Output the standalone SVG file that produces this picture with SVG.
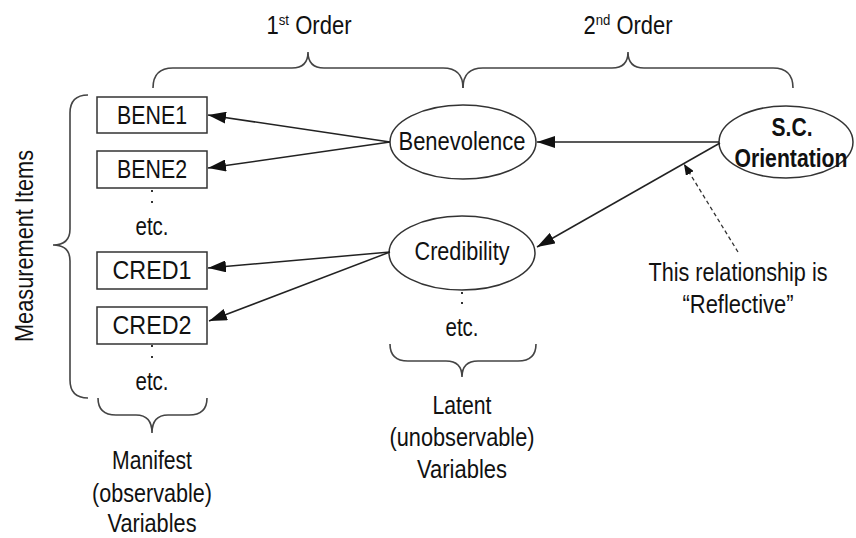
<svg xmlns="http://www.w3.org/2000/svg" width="856" height="538" viewBox="0 0 856 538">
  <style>
    text { font-family: "Liberation Sans", Arial, sans-serif; font-size: 25px; fill: #111; text-anchor: middle; }
    .b { font-weight: bold; }
    .sup { font-size: 15px; }
    .box { fill: #fff; stroke: #333; stroke-width: 1.5; }
    .ell { fill: #fff; stroke: #333; stroke-width: 1.5; }
    .brace { fill: none; stroke: #444; stroke-width: 1.6; }
    .edge { fill: none; stroke: #222; stroke-width: 1.5; }
    .dash { fill: none; stroke: #333; stroke-width: 1.3; stroke-dasharray: 4 3; }
    .dot { fill: #333; }
  </style>
  <defs>
    <marker id="arrow" markerUnits="userSpaceOnUse" markerWidth="18" markerHeight="12" refX="18" refY="6" orient="auto">
      <path d="M0,0 L18,6 L0,12 z" fill="#111"/>
    </marker>
    <marker id="arrowSmall" markerUnits="userSpaceOnUse" markerWidth="11" markerHeight="9" refX="11" refY="4.5" orient="auto">
      <path d="M0,0 L11,4.5 L0,9 z" fill="#111"/>
    </marker>
  </defs>

  <!-- order headings and braces -->
  <g id="orders">
    <text x="309" y="34" textLength="85" lengthAdjust="spacingAndGlyphs">1<tspan class="sup" dy="-9">st</tspan><tspan dy="9"> Order</tspan></text>
    <text x="628" y="34" textLength="89" lengthAdjust="spacingAndGlyphs">2<tspan class="sup" dy="-9">nd</tspan><tspan dy="9"> Order</tspan></text>
    <path class="brace" d="M153,88 Q153,68 173,68 L292,68 Q308,68 308,52 Q308,68 324,68 L443,68 Q463,68 463,88"/>
    <path class="brace" d="M463,88 Q463,68 483,68 L612,68 Q628,68 628,52 Q628,68 644,68 L773,68 Q793,68 793,88"/>
  </g>

  <!-- measurement items brace -->
  <g id="measurement-items">
    <path class="brace" d="M88,95 Q70,95 70,113 L70,229 Q70,245 53,245 Q70,245 70,261 L70,380 Q70,398 88,398"/>
    <text transform="translate(33,246) rotate(-90)" x="0" y="0" textLength="192" lengthAdjust="spacingAndGlyphs">Measurement Items</text>
  </g>

  <!-- manifest variables -->
  <g id="bene1">
    <rect class="box" x="97" y="97" width="110" height="36"/>
    <text x="152" y="124" textLength="70" lengthAdjust="spacingAndGlyphs">BENE1</text>
  </g>
  <g id="bene2">
    <rect class="box" x="97" y="151" width="110" height="37"/>
    <text x="152" y="178" textLength="70" lengthAdjust="spacingAndGlyphs">BENE2</text>
  </g>
  <g id="bene-etc">
    <rect class="dot" x="151" y="190" width="2" height="2"/>
    <rect class="dot" x="151" y="201" width="2" height="2"/>
    <text x="152" y="235" textLength="33" lengthAdjust="spacingAndGlyphs">etc.</text>
  </g>
  <g id="cred1">
    <rect class="box" x="97" y="252" width="110" height="37"/>
    <text x="152" y="279" textLength="79" lengthAdjust="spacingAndGlyphs">CRED1</text>
  </g>
  <g id="cred2">
    <rect class="box" x="97" y="307" width="110" height="37"/>
    <text x="152" y="334" textLength="79" lengthAdjust="spacingAndGlyphs">CRED2</text>
  </g>
  <g id="cred-etc">
    <rect class="dot" x="151" y="345" width="2" height="2"/>
    <rect class="dot" x="151" y="356" width="2" height="2"/>
    <text x="152" y="390" textLength="33" lengthAdjust="spacingAndGlyphs">etc.</text>
  </g>
  <g id="manifest-label">
    <path class="brace" d="M98,398 Q98,415 116,415 L136,415 Q152,415 152,433 Q152,415 168,415 L189,415 Q207,415 207,398"/>
    <text x="152" y="469" textLength="80" lengthAdjust="spacingAndGlyphs">Manifest</text>
    <text x="152" y="502" textLength="120" lengthAdjust="spacingAndGlyphs">(observable)</text>
    <text x="152" y="532" textLength="89" lengthAdjust="spacingAndGlyphs">Variables</text>
  </g>

  <!-- latent variables -->
  <g id="benevolence">
    <ellipse class="ell" cx="463" cy="142" rx="73" ry="37"/>
    <text x="462" y="150" textLength="127" lengthAdjust="spacingAndGlyphs">Benevolence</text>
  </g>
  <g id="credibility">
    <ellipse class="ell" cx="462" cy="253" rx="73" ry="37"/>
    <text x="462" y="260" textLength="95" lengthAdjust="spacingAndGlyphs">Credibility</text>
  </g>
  <g id="latent-etc">
    <rect class="dot" x="461" y="292" width="2" height="2"/>
    <rect class="dot" x="461" y="302" width="2" height="2"/>
    <text x="462" y="336" textLength="33" lengthAdjust="spacingAndGlyphs">etc.</text>
  </g>
  <g id="latent-label">
    <path class="brace" d="M390,344 Q390,361 408,361 L446,361 Q462,361 462,377 Q462,361 478,361 L518,361 Q536,361 536,344"/>
    <text x="462" y="414" textLength="59" lengthAdjust="spacingAndGlyphs">Latent</text>
    <text x="462" y="446" textLength="145" lengthAdjust="spacingAndGlyphs">(unobservable)</text>
    <text x="462" y="478" textLength="90" lengthAdjust="spacingAndGlyphs">Variables</text>
  </g>

  <!-- second-order construct -->
  <g id="sc-orientation">
    <ellipse class="ell" cx="786" cy="142" rx="67" ry="36"/>
    <text class="b" x="792" y="136" textLength="41" lengthAdjust="spacingAndGlyphs">S.C.</text>
    <text class="b" x="791" y="167" textLength="113" lengthAdjust="spacingAndGlyphs">Orientation</text>
  </g>

  <!-- annotation -->
  <g id="reflective-note">
    <text x="738" y="281" textLength="179" lengthAdjust="spacingAndGlyphs">This relationship is</text>
    <text x="738" y="313" textLength="111" lengthAdjust="spacingAndGlyphs">“Reflective”</text>
  </g>

  <!-- connectors -->
  <g id="connectors">
    <line class="edge" x1="390" y1="142" x2="208" y2="115" marker-end="url(#arrow)"/>
    <line class="edge" x1="390" y1="142" x2="208" y2="168" marker-end="url(#arrow)"/>
    <line class="edge" x1="390" y1="252" x2="208" y2="268" marker-end="url(#arrow)"/>
    <line class="edge" x1="390" y1="252" x2="209" y2="321" marker-end="url(#arrow)"/>
    <line class="edge" x1="719" y1="142" x2="537" y2="142" marker-end="url(#arrow)"/>
    <line class="edge" x1="720" y1="143" x2="537" y2="247" marker-end="url(#arrow)"/>
    <line class="dash" x1="738" y1="252" x2="684" y2="164" marker-end="url(#arrowSmall)"/>
  </g>
</svg>
